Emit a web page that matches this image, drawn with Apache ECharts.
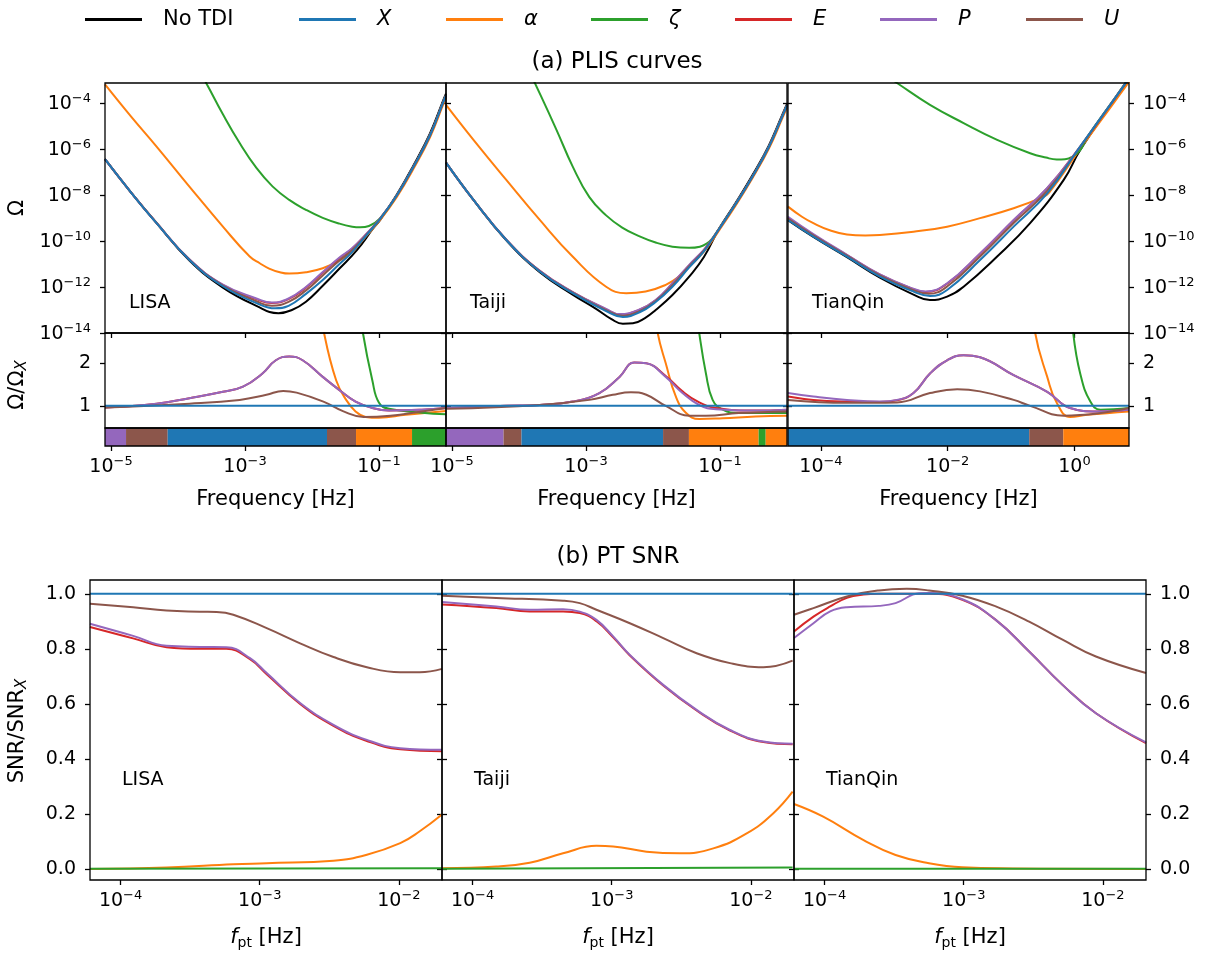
<!DOCTYPE html>
<html>
<head>
<meta charset="utf-8">
<script src="https://cdn.jsdelivr.net/npm/echarts@6/dist/echarts.min.js"></script>
<style>
html, body { margin: 0; padding: 0; background: #fff; }
#chart { width: 1210px; height: 954px; }
</style>
</head>
<body>
<div id="chart"></div>
<script>
// all curves are [log10 f, value]; PLIS values are log10 Ω
const lisaPlisNoTdi = [[-5.09,-6.45],[-4.7,-7.9],[-4.32,-9.23],[-3.83,-10.85],[-3.33,-12.03],[-2.83,-12.82],[-2.5,-13.14],[-2.3,-13.0],[-2.09,-12.64],[-1.84,-11.95],[-1.59,-11.2],[-1.33,-10.4],[-1.085,-9.45],[-0.985,-9.1],[-0.736,-8.0],[-0.488,-6.73],[-0.239,-5.33],[-0.04,-3.88],[0,-3.6]]
const lisaPlisX = [[-5.09,-6.45],[-4.7,-7.9],[-4.32,-9.23],[-3.83,-10.83],[-3.33,-11.97],[-2.83,-12.7],[-2.55,-12.93],[-2.35,-12.82],[-2.09,-12.3],[-1.84,-11.7],[-1.59,-11.0],[-1.407,-10.51],[-1.2,-9.8],[-0.985,-9.05],[-0.736,-8.03],[-0.488,-6.79],[-0.239,-5.41],[-0.04,-3.96],[0,-3.68]]
const lisaPlisAlpha = [[-5.09,-3.2],[-4.7,-4.6],[-4.32,-5.9],[-3.83,-7.64],[-3.33,-9.38],[-2.93,-10.68],[-2.78,-10.97],[-2.64,-11.2],[-2.48,-11.36],[-2.34,-11.42],[-2.09,-11.36],[-1.84,-11.19],[-1.59,-10.85],[-1.407,-10.5],[-1.2,-9.82],[-0.985,-9.1],[-0.736,-8.1],[-0.488,-6.88],[-0.239,-5.5],[-0.04,-4.06],[0,-3.78]]
const lisaPlisZeta = [[-3.85,-1.75],[-3.58,-3.14],[-3.33,-4.5],[-3.08,-5.75],[-2.83,-6.83],[-2.59,-7.63],[-2.34,-8.22],[-2.09,-8.65],[-1.84,-9.0],[-1.59,-9.25],[-1.4,-9.38],[-1.28,-9.41],[-1.15,-9.35],[-0.985,-9.02],[-0.736,-8.03],[-0.488,-6.79],[-0.239,-5.41],[-0.04,-3.96],[0,-3.68]]
const lisaPlisE = [[-5.09,-6.45],[-4.7,-7.9],[-4.32,-9.22],[-3.83,-10.81],[-3.33,-11.92],[-2.83,-12.53],[-2.6,-12.7],[-2.35,-12.53],[-2.09,-12.03],[-1.84,-11.38],[-1.59,-10.75],[-1.407,-10.35],[-1.2,-9.74],[-0.985,-9.04],[-0.736,-8.03],[-0.488,-6.79],[-0.239,-5.41],[-0.04,-3.96],[0,-3.68]]
const lisaPlisP = [[-5.09,-6.45],[-4.7,-7.9],[-4.32,-9.22],[-3.83,-10.8],[-3.33,-11.9],[-2.83,-12.5],[-2.6,-12.68],[-2.35,-12.5],[-2.09,-12.0],[-1.84,-11.35],[-1.59,-10.72],[-1.407,-10.33],[-1.2,-9.73],[-0.985,-9.03],[-0.736,-8.03],[-0.488,-6.79],[-0.239,-5.41],[-0.04,-3.96],[0,-3.68]]
const lisaPlisU = [[-5.09,-6.45],[-4.7,-7.9],[-4.32,-9.22],[-3.83,-10.82],[-3.33,-11.94],[-2.83,-12.62],[-2.6,-12.82],[-2.35,-12.65],[-2.09,-12.15],[-1.84,-11.5],[-1.59,-10.85],[-1.407,-10.42],[-1.2,-9.77],[-0.985,-9.04],[-0.736,-8.03],[-0.488,-6.79],[-0.239,-5.41],[-0.04,-3.96],[0,-3.68]]

const taijiPlisNoTdi = [[-5.09,-6.6],[-4.68,-8.22],[-4.19,-9.97],[-3.69,-11.36],[-3.2,-12.33],[-2.85,-12.95],[-2.62,-13.4],[-2.45,-13.6],[-2.3,-13.58],[-2.12,-13.35],[-1.96,-13.0],[-1.71,-12.35],[-1.46,-11.55],[-1.24,-10.7],[-1.016,-9.48],[-0.768,-8.35],[-0.521,-7.17],[-0.272,-5.86],[-0.074,-4.55],[0,-4.05]]
const taijiPlisX = [[-5.09,-6.6],[-4.68,-8.22],[-4.19,-9.96],[-3.69,-11.33],[-3.2,-12.27],[-2.7,-13.05],[-2.45,-13.3],[-2.2,-13.1],[-1.96,-12.65],[-1.71,-11.99],[-1.46,-11.15],[-1.24,-10.45],[-1.116,-9.93],[-1.016,-9.49],[-0.768,-8.4],[-0.521,-7.23],[-0.272,-5.92],[-0.074,-4.61],[0,-4.1]]
const taijiPlisAlpha = [[-5.09,-4.09],[-4.68,-5.61],[-4.19,-7.35],[-3.69,-9.09],[-3.2,-10.68],[-2.7,-11.99],[-2.4,-12.27],[-2.11,-12.2],[-1.81,-11.91],[-1.61,-11.55],[-1.46,-11.12],[-1.24,-10.47],[-1.016,-9.55],[-0.768,-8.47],[-0.521,-7.3],[-0.272,-6.0],[-0.074,-4.7],[0,-4.2]]
const taijiPlisZeta = [[-3.9,-2.3],[-3.77,-3.1],[-3.446,-5.14],[-3.2,-6.76],[-2.95,-8.1],[-2.7,-8.89],[-2.46,-9.42],[-2.2,-9.8],[-1.95,-10.08],[-1.71,-10.25],[-1.46,-10.3],[-1.3,-10.25],[-1.2,-10.12],[-1.116,-9.9],[-1.016,-9.47],[-0.768,-8.4],[-0.521,-7.23],[-0.272,-5.92],[-0.074,-4.61],[0,-4.1]]
const taijiPlisE = [[-5.09,-6.6],[-4.68,-8.22],[-4.19,-9.95],[-3.69,-11.3],[-3.2,-12.22],[-2.7,-12.97],[-2.5,-13.2],[-2.2,-12.99],[-1.96,-12.58],[-1.71,-11.86],[-1.46,-11.06],[-1.24,-10.4],[-1.116,-9.92],[-1.016,-9.49],[-0.768,-8.4],[-0.521,-7.23],[-0.272,-5.92],[-0.074,-4.61],[0,-4.1]]
const taijiPlisP = [[-5.09,-6.6],[-4.68,-8.22],[-4.19,-9.95],[-3.69,-11.3],[-3.2,-12.22],[-2.7,-12.95],[-2.5,-13.18],[-2.2,-12.98],[-1.96,-12.57],[-1.71,-11.84],[-1.46,-11.04],[-1.24,-10.38],[-1.116,-9.91],[-1.016,-9.49],[-0.768,-8.4],[-0.521,-7.23],[-0.272,-5.92],[-0.074,-4.61],[0,-4.1]]
const taijiPlisU = [[-5.09,-6.6],[-4.68,-8.22],[-4.19,-9.96],[-3.69,-11.32],[-3.2,-12.25],[-2.7,-13.01],[-2.45,-13.25],[-2.2,-13.05],[-1.96,-12.61],[-1.71,-11.92],[-1.46,-11.1],[-1.24,-10.42],[-1.116,-9.92],[-1.016,-9.49],[-0.768,-8.4],[-0.521,-7.23],[-0.272,-5.92],[-0.074,-4.61],[0,-4.1]]

const tianqinPlisNoTdi = [[-4.52,-9.1],[-4.12,-9.83],[-3.59,-10.71],[-3.07,-11.6],[-2.54,-12.33],[-2.28,-12.57],[-2.01,-12.42],[-1.75,-11.99],[-1.22,-10.68],[-0.7,-9.23],[-0.17,-7.35],[0.09,-6.05],[0.62,-3.92],[0.87,-2.95]]
const tianqinPlisX = [[-4.52,-9.09],[-4.12,-9.81],[-3.59,-10.68],[-3.07,-11.55],[-2.54,-12.2],[-2.28,-12.39],[-2.01,-12.13],[-1.49,-10.83],[-0.96,-9.38],[-0.43,-7.93],[0.09,-5.9],[0.62,-3.87],[0.87,-2.9]]
const tianqinPlisAlpha = [[-4.52,-8.51],[-4.3,-8.95],[-4.12,-9.23],[-3.85,-9.55],[-3.59,-9.72],[-3.3,-9.76],[-3.07,-9.74],[-2.54,-9.6],[-2.01,-9.38],[-1.49,-9.01],[-0.96,-8.58],[-0.54,-8.14],[-0.4,-7.9],[0.09,-6.0],[0.62,-4.0],[0.87,-3.05]]
const tianqinPlisZeta = [[-3.2,-2.4],[-2.8,-3.14],[-2.28,-4.09],[-1.75,-4.88],[-1.22,-5.61],[-0.7,-6.19],[-0.45,-6.38],[-0.28,-6.46],[-0.15,-6.45],[-0.02,-6.32],[0.09,-6.06],[0.2,-5.5],[0.62,-3.86],[0.87,-2.88]]
const tianqinPlisE = [[-4.52,-9.0],[-4.12,-9.74],[-3.59,-10.62],[-3.07,-11.47],[-2.54,-12.1],[-2.35,-12.22],[-2.01,-11.86],[-1.49,-10.56],[-0.96,-9.1],[-0.43,-7.71],[0.09,-5.9],[0.62,-3.87],[0.87,-2.9]]
const tianqinPlisP = [[-4.52,-8.95],[-4.12,-9.7],[-3.59,-10.6],[-3.07,-11.45],[-2.54,-12.08],[-2.35,-12.2],[-2.01,-11.84],[-1.49,-10.54],[-0.96,-9.09],[-0.43,-7.7],[0.09,-5.9],[0.62,-3.87],[0.87,-2.9]]
const tianqinPlisU = [[-4.52,-9.03],[-4.12,-9.76],[-3.59,-10.64],[-3.07,-11.5],[-2.54,-12.14],[-2.3,-12.3],[-2.01,-11.98],[-1.49,-10.68],[-0.96,-9.22],[-0.43,-7.82],[0.09,-5.92],[0.62,-3.88],[0.87,-2.9]]

// Ω / Ω_X
const lisaRatioX = [[-5.09,1],[0,1]]
const lisaRatioAlpha = [[-1.95,4],[-1.82,2.71],[-1.64,1.6],[-1.49,1.14],[-1.35,0.87],[-1.2,0.74],[-1.0,0.72],[-0.6,0.79],[0,0.88]]
const lisaRatioZeta = [[-1.35,4],[-1.24,2.71],[-1.1,1.6],[-1.0,1.07],[-0.85,0.93],[-0.36,0.84],[0,0.8]]
const lisaRatioE = [[-5.09,0.96],[-4.32,1.05],[-3.83,1.18],[-3.33,1.33],[-3.03,1.45],[-2.74,1.76],[-2.54,2.07],[-2.34,2.16],[-2.14,2.07],[-1.84,1.68],[-1.59,1.37],[-1.35,1.1],[-1.1,0.95],[-0.85,0.89],[-0.36,0.91],[0,0.95]]
const lisaRatioP = [[-5.09,0.96],[-4.32,1.05],[-3.83,1.18],[-3.33,1.33],[-3.03,1.45],[-2.74,1.76],[-2.54,2.07],[-2.34,2.16],[-2.14,2.07],[-1.84,1.68],[-1.59,1.37],[-1.35,1.1],[-1.1,0.95],[-0.85,0.89],[-0.36,0.91],[0,0.95]]
const lisaRatioU = [[-5.09,0.96],[-3.83,1.05],[-3.08,1.14],[-2.68,1.26],[-2.43,1.35],[-2.23,1.31],[-1.83,1.1],[-1.53,0.87],[-1.23,0.74],[-0.83,0.77],[-0.36,0.87],[0,0.95]]

const taijiRatioX = [[-5.09,1],[0,1]]
const taijiRatioAlpha = [[-2.05,4],[-1.93,2.71],[-1.81,2.0],[-1.66,1.22],[-1.51,0.84],[-1.31,0.69],[-0.96,0.71],[-0.47,0.75],[0,0.77]]
const taijiRatioZeta = [[-1.42,4],[-1.31,2.71],[-1.21,1.76],[-1.11,1.14],[-0.96,0.91],[-0.72,0.83],[0,0.83]]
const taijiRatioE = [[-5.08,0.95],[-4.19,1.0],[-3.69,1.02],[-3.2,1.1],[-2.8,1.3],[-2.5,1.68],[-2.28,2.02],[-2.1,2.0],[-1.81,1.7],[-1.56,1.34],[-1.31,1.08],[-1.06,0.95],[-0.47,0.89],[0,0.91]]
const taijiRatioP = [[-5.08,0.95],[-4.19,1.0],[-3.69,1.02],[-3.2,1.1],[-2.8,1.3],[-2.5,1.68],[-2.28,2.02],[-2.1,2.0],[-1.81,1.68],[-1.56,1.3],[-1.31,1.02],[-1.06,0.92],[-0.47,0.89],[0,0.91]]
const taijiRatioU = [[-5.08,0.93],[-3.69,1.02],[-2.95,1.14],[-2.6,1.26],[-2.33,1.32],[-2.1,1.26],[-1.81,1.0],[-1.46,0.77],[-1.21,0.77],[-0.72,0.83],[0,0.87]]

const tianqinRatioX = [[-4.52,1],[0.86,1]]
const tianqinRatioAlpha = [[-0.7,4],[-0.62,2.71],[-0.43,1.68],[-0.28,1.07],[-0.07,0.74],[0.2,0.79],[0.86,0.87]]
const tianqinRatioZeta = [[-0.08,4],[-0.02,2.71],[0.09,1.76],[0.25,1.1],[0.41,0.91],[0.86,0.95]]
const tianqinRatioE = [[-4.52,1.22],[-4.12,1.14],[-3.59,1.1],[-3.07,1.09],[-2.8,1.13],[-2.54,1.3],[-2.28,1.76],[-2.01,2.07],[-1.75,2.19],[-1.49,2.14],[-0.96,1.72],[-0.43,1.33],[-0.07,0.95],[0.36,0.87],[0.86,0.91]]
const tianqinRatioP = [[-4.52,1.3],[-4.12,1.22],[-3.59,1.14],[-3.07,1.1],[-2.8,1.14],[-2.54,1.3],[-2.28,1.76],[-2.01,2.07],[-1.75,2.19],[-1.49,2.14],[-0.96,1.72],[-0.43,1.33],[-0.07,0.95],[0.36,0.87],[0.86,0.91]]
const tianqinRatioU = [[-4.52,1.14],[-3.59,1.07],[-2.8,1.08],[-2.28,1.3],[-1.85,1.39],[-1.49,1.34],[-0.96,1.14],[-0.7,1.0],[-0.17,0.77],[0.36,0.82],[0.86,0.95]]

// best TDI strip: band edges in log10 f, and the combination of each band
const lisaStripEdges = [-5.09, -4.776, -4.154, -1.776, -1.343, -0.507, 0]
const lisaStripTdi = ['P', 'U', 'X', 'U', 'α', 'ζ']
const taijiStripEdges = [-5.09, -4.231, -3.963, -1.85, -1.464, -0.423, -0.318, 0]
const taijiStripTdi = ['P', 'U', 'X', 'U', 'α', 'ζ', 'α']
const tianqinStripEdges = [-4.52, -0.714, -0.177, 0.86]
const tianqinStripTdi = ['X', 'U', 'α']

// SNR / SNR_X
const lisaSnrX = [[-4.22,1],[-1.69,1]]
const lisaSnrAlpha = [[-4.22,0],[-3.67,0.005],[-3.19,0.017],[-2.95,0.021],[-2.47,0.03],[-2.23,0.052],[-1.99,0.094],[-1.85,0.137],[-1.69,0.198]]
const lisaSnrZeta = [[-4.22,0.001],[-1.69,0.003]]
const lisaSnrE = [[-4.22,0.879],[-3.91,0.838],[-3.67,0.806],[-3.43,0.8],[-3.24,0.8],[-3.07,0.762],[-2.95,0.708],[-2.71,0.6],[-2.47,0.52],[-2.23,0.465],[-1.99,0.435],[-1.69,0.428]]
const lisaSnrP = [[-4.22,0.891],[-3.91,0.847],[-3.67,0.811],[-3.43,0.807],[-3.24,0.806],[-3.07,0.766],[-2.95,0.712],[-2.71,0.603],[-2.47,0.524],[-2.23,0.469],[-1.99,0.439],[-1.69,0.433]]
const lisaSnrU = [[-4.22,0.964],[-3.91,0.951],[-3.67,0.939],[-3.43,0.935],[-3.31,0.934],[-3.19,0.924],[-2.95,0.875],[-2.71,0.82],[-2.47,0.77],[-2.23,0.733],[-1.99,0.715],[-1.85,0.715],[-1.69,0.727]]

const taijiSnrX = [[-4.22,1],[-1.7,1]]
const taijiSnrAlpha = [[-4.22,0.003],[-3.83,0.009],[-3.59,0.023],[-3.35,0.057],[-3.11,0.084],[-2.99,0.082],[-2.75,0.063],[-2.51,0.057],[-2.27,0.075],[-2.03,0.129],[-1.84,0.202],[-1.7,0.281]]
const taijiSnrZeta = [[-4.22,0.001],[-1.7,0.005]]
const taijiSnrE = [[-4.22,0.961],[-3.83,0.948],[-3.59,0.936],[-3.35,0.936],[-3.23,0.93],[-3.11,0.9],[-2.99,0.842],[-2.87,0.776],[-2.63,0.667],[-2.39,0.576],[-2.15,0.503],[-1.91,0.461],[-1.7,0.453]]
const taijiSnrP = [[-4.22,0.97],[-3.83,0.954],[-3.59,0.942],[-3.35,0.944],[-3.23,0.935],[-3.11,0.905],[-2.99,0.845],[-2.87,0.778],[-2.63,0.669],[-2.39,0.578],[-2.15,0.505],[-1.91,0.463],[-1.7,0.455]]
const taijiSnrU = [[-4.22,0.993],[-3.83,0.985],[-3.35,0.975],[-3.23,0.966],[-3.11,0.942],[-2.87,0.893],[-2.63,0.839],[-2.39,0.784],[-2.15,0.748],[-1.91,0.733],[-1.7,0.757]]

const tianqinSnrX = [[-4.22,1],[-1.69,1]]
const tianqinSnrAlpha = [[-4.22,0.236],[-4.01,0.19],[-3.72,0.105],[-3.49,0.051],[-3.25,0.021],[-3.01,0.006],[-2.65,0.002],[-1.69,0.0]]
const tianqinSnrZeta = [[-4.22,0.001],[-1.69,0.001]]
const tianqinSnrE = [[-4.22,0.863],[-4.08,0.917],[-3.96,0.954],[-3.84,0.985],[-3.72,0.997],[-3.61,1.0],[-3.25,1.0],[-3.01,0.978],[-2.77,0.905],[-2.53,0.79],[-2.29,0.669],[-2.05,0.566],[-1.69,0.457]]
const tianqinSnrP = [[-4.22,0.839],[-4.08,0.893],[-3.96,0.936],[-3.84,0.951],[-3.61,0.956],[-3.49,0.966],[-3.32,1.002],[-3.25,1.003],[-3.01,0.98],[-2.77,0.905],[-2.53,0.79],[-2.29,0.669],[-2.05,0.566],[-1.69,0.46]]
const tianqinSnrU = [[-4.22,0.924],[-4.08,0.948],[-3.84,0.99],[-3.61,1.012],[-3.41,1.018],[-3.25,1.012],[-3.01,0.993],[-2.77,0.954],[-2.53,0.899],[-2.29,0.833],[-2.05,0.772],[-1.69,0.712]]

// axis ranges (log10 for log axes) and ticks
const plisRange = [-14, -3.14]
const plisTicks = [-14, -12, -10, -8, -6, -4]
const ratioRange = [0.48, 2.71]
const ratioTicks = [1, 2]
const snrRange = [-0.04, 1.05]
const snrTicks = [0, 0.2, 0.4, 0.6, 0.8, 1.0]
const lisaFRange = [-5.09, 0]
const taijiFRange = [-5.09, 0]
const tianqinFRange = [-4.52, 0.86]
const lisaFTicks = [-5, -3, -1]
const taijiFTicks = [-5, -3, -1]
const tianqinFTicks = [-4, -2, 0]
const snrFRange = [-4.22, -1.69]
const snrFTicks = [-4, -3, -2]

const FONT = 'DejaVu Sans'
const COLORS = {'No TDI': '#000000', X: '#1f77b4', 'α': '#ff7f0e', 'ζ': '#2ca02c', E: '#d62728', P: '#9467bd', U: '#8c564b'}
const DRAW_ORDER = ['No TDI', 'α', 'ζ', 'E', 'P', 'U', 'X']
const LEGEND_ORDER = ['No TDI', 'X', 'α', 'ζ', 'E', 'P', 'U']
const LEGEND_LEFT = [85, 299, 446, 591, 735, 880, 1026]

const detectors = [
  {
    name: 'LISA', fRange: lisaFRange, fTicks: lisaFTicks,
    plis: {'No TDI': lisaPlisNoTdi, X: lisaPlisX, 'α': lisaPlisAlpha, 'ζ': lisaPlisZeta, E: lisaPlisE, P: lisaPlisP, U: lisaPlisU},
    ratio: {X: lisaRatioX, 'α': lisaRatioAlpha, 'ζ': lisaRatioZeta, E: lisaRatioE, P: lisaRatioP, U: lisaRatioU},
    stripEdges: lisaStripEdges, stripTdi: lisaStripTdi,
    snr: {X: lisaSnrX, 'α': lisaSnrAlpha, 'ζ': lisaSnrZeta, E: lisaSnrE, P: lisaSnrP, U: lisaSnrU},
  },
  {
    name: 'Taiji', fRange: taijiFRange, fTicks: taijiFTicks,
    plis: {'No TDI': taijiPlisNoTdi, X: taijiPlisX, 'α': taijiPlisAlpha, 'ζ': taijiPlisZeta, E: taijiPlisE, P: taijiPlisP, U: taijiPlisU},
    ratio: {X: taijiRatioX, 'α': taijiRatioAlpha, 'ζ': taijiRatioZeta, E: taijiRatioE, P: taijiRatioP, U: taijiRatioU},
    stripEdges: taijiStripEdges, stripTdi: taijiStripTdi,
    snr: {X: taijiSnrX, 'α': taijiSnrAlpha, 'ζ': taijiSnrZeta, E: taijiSnrE, P: taijiSnrP, U: taijiSnrU},
  },
  {
    name: 'TianQin', fRange: tianqinFRange, fTicks: tianqinFTicks,
    plis: {'No TDI': tianqinPlisNoTdi, X: tianqinPlisX, 'α': tianqinPlisAlpha, 'ζ': tianqinPlisZeta, E: tianqinPlisE, P: tianqinPlisP, U: tianqinPlisU},
    ratio: {X: tianqinRatioX, 'α': tianqinRatioAlpha, 'ζ': tianqinRatioZeta, E: tianqinRatioE, P: tianqinRatioP, U: tianqinRatioU},
    stripEdges: tianqinStripEdges, stripTdi: tianqinStripTdi,
    snr: {X: tianqinSnrX, 'α': tianqinSnrAlpha, 'ζ': tianqinSnrZeta, E: tianqinSnrE, P: tianqinSnrP, U: tianqinSnrU},
  },
]

// layout
const TOP_LEFT = [105, 446, 788], TOP_W = 341
const PLIS_TOP = 83, PLIS_H = 250
const RATIO_TOP = 333, RATIO_H = 95
const STRIP_TOP = 428, STRIP_H = 18
const SNR_LEFT = [90, 442, 794], SNR_W = 352
const SNR_TOP = 580, SNR_H = 300

const p10 = v => Math.pow(10, v)
const logLog = pts => pts.map(([f, v]) => [p10(f), p10(v)])
const logLin = pts => pts.map(([f, v]) => [p10(f), v])

const TICK = {show: true, length: 5, lineStyle: {color: '#000', width: 1.3}}
const POW_RICH = {
  b: {fontFamily: FONT, fontSize: 19, color: '#000', lineHeight: 22, padding: [3, 0, 0, 0]},
  s: {fontFamily: FONT, fontSize: 13, color: '#000', lineHeight: 14, verticalAlign: 'top'},
}
function powLabel(v) {
  const e = Math.round(Math.log10(v))
  return '{b|10}{s|' + (e < 0 ? '\u2212' + (-e) : String(e)) + '}'
}

const grids = [], xAxis = [], yAxis = [], series = []

function addGrid(left, top, width, height) {
  grids.push({left, top, width, height, show: true, borderColor: '#000', borderWidth: 1.3, backgroundColor: 'transparent', z: 5})
  return grids.length - 1
}

function addXLog(gi, range, ticks, label, name, nameGap, nameStyle) {
  xAxis.push({
    type: 'log', gridIndex: gi, min: p10(range[0]), max: p10(range[1]),
    axisLine: {show: false, onZero: false}, splitLine: {show: false},
    axisTick: {...TICK, customValues: ticks.map(p10)},
    axisLabel: {show: label, customValues: ticks.map(p10), formatter: powLabel, margin: 9, rich: POW_RICH},
    name: name || '', nameLocation: 'middle', nameGap: nameGap || 0, nameTextStyle: nameStyle || {},
  })
}

function addYPair(gi, type, range, ticks, fmt, rich, showLeft, showRight) {
  const first = yAxis.length
  const conv = type === 'log' ? p10 : (v => v)
  ;['left', 'right'].forEach((pos, k) => {
    yAxis.push({
      type, gridIndex: gi, position: pos, min: conv(range[0]), max: conv(range[1]),
      axisLine: {show: false, onZero: false}, splitLine: {show: false},
      axisTick: {...TICK, customValues: ticks.map(conv)},
      axisLabel: {
        show: k ? showRight : showLeft, customValues: ticks.map(conv), formatter: fmt, margin: 14,
        fontFamily: FONT, fontSize: 19, color: '#000', rich,
      },
    })
  })
  return first
}

function addLines(curves, gi, yi, conv) {
  DRAW_ORDER.forEach(name => {
    if (!curves[name]) return
    series.push({
      type: 'line', name, xAxisIndex: gi, yAxisIndex: yi, data: conv(curves[name]),
      showSymbol: false, symbol: 'none', smooth: 0.45, silent: true, z: 2,
      lineStyle: {width: 2, color: COLORS[name]}, itemStyle: {color: COLORS[name]},
    })
  })
}

const FREQ_NAME = {fontFamily: FONT, fontSize: 21, color: '#000'}
const FPT_NAME = {
  fontFamily: FONT, fontSize: 21, color: '#000',
  rich: {
    i: {fontFamily: FONT, fontSize: 21, fontStyle: 'italic', color: '#000', lineHeight: 24},
    u: {fontFamily: FONT, fontSize: 14, color: '#000', lineHeight: 10, verticalAlign: 'bottom'},
    n: {fontFamily: FONT, fontSize: 21, color: '#000', lineHeight: 24},
  },
}

const graphics = []

detectors.forEach((d, k) => {
  const first = k === 0, last = k === detectors.length - 1

  // PLIS
  let gi = addGrid(TOP_LEFT[k], PLIS_TOP, TOP_W, PLIS_H)
  addXLog(gi, d.fRange, d.fTicks, false)
  let yi = addYPair(gi, 'log', plisRange, plisTicks, powLabel, POW_RICH, first, last)
  addLines(d.plis, gi, yi, logLog)
  graphics.push({type: 'text', x: TOP_LEFT[k] + 24, y: 303, style: {text: d.name, fontFamily: FONT, fontSize: 19, fill: '#000', verticalAlign: 'middle'}})

  // ratio
  gi = addGrid(TOP_LEFT[k], RATIO_TOP, TOP_W, RATIO_H)
  addXLog(gi, d.fRange, d.fTicks, false)
  yi = addYPair(gi, 'value', ratioRange, ratioTicks, v => String(v), undefined, first, last)
  addLines(d.ratio, gi, yi, logLin)

  // best-TDI strip
  gi = addGrid(TOP_LEFT[k], STRIP_TOP, TOP_W, STRIP_H)
  addXLog(gi, d.fRange, d.fTicks, true, 'Frequency [Hz]', 43, FREQ_NAME)
  yAxis.push({type: 'value', gridIndex: gi, min: 0, max: 1, show: false})
  const tdi = d.stripTdi
  series.push({
    type: 'custom', xAxisIndex: gi, yAxisIndex: yAxis.length - 1, silent: true, z: 1,
    data: d.stripEdges.slice(0, -1).map((e, i) => [p10(e), p10(d.stripEdges[i + 1]), 0, 1]),
    encode: {x: [0, 1], y: [2, 3]},
    renderItem(params, api) {
      const a = api.coord([api.value(0), api.value(2)])
      const b = api.coord([api.value(1), api.value(3)])
      return {type: 'rect', shape: {x: a[0], y: b[1], width: b[0] - a[0], height: a[1] - b[1]}, style: {fill: COLORS[tdi[params.dataIndex]]}}
    },
  })

  // SNR
  gi = addGrid(SNR_LEFT[k], SNR_TOP, SNR_W, SNR_H)
  addXLog(gi, snrFRange, snrFTicks, true, '{i|f}{u|pt}{n| [Hz]}', 46, FPT_NAME)
  yi = addYPair(gi, 'value', snrRange, snrTicks, v => v.toFixed(1), undefined, first, last)
  addLines(d.snr, gi, yi, logLin)
  graphics.push({type: 'text', x: SNR_LEFT[k] + 32, y: 780, style: {text: d.name, fontFamily: FONT, fontSize: 19, fill: '#000', verticalAlign: 'middle'}})
})

graphics.push(
  {type: 'text', x: 617, y: 62, style: {text: '(a) PLIS curves', fontFamily: FONT, fontSize: 23, fill: '#000', align: 'center', verticalAlign: 'middle'}},
  {type: 'text', x: 618, y: 557, style: {text: '(b) PT SNR', fontFamily: FONT, fontSize: 23, fill: '#000', align: 'center', verticalAlign: 'middle'}},
  {type: 'text', x: 18, y: 208, rotation: Math.PI / 2, style: {text: 'Ω', fontFamily: FONT, fontSize: 21, fill: '#000', align: 'center', verticalAlign: 'middle'}},
  {
    type: 'text', x: 18, y: 385, rotation: Math.PI / 2,
    style: {
      text: '{a|Ω/Ω}{s|X}', align: 'center', verticalAlign: 'middle',
      rich: {
        a: {fontFamily: FONT, fontSize: 21, fill: '#000', lineHeight: 24},
        s: {fontFamily: FONT, fontSize: 15, fontStyle: 'italic', fill: '#000', lineHeight: 10, verticalAlign: 'bottom'},
      },
    },
  },
  {
    type: 'text', x: 18, y: 731, rotation: Math.PI / 2,
    style: {
      text: '{a|SNR/SNR}{s|X}', align: 'center', verticalAlign: 'middle',
      rich: {
        a: {fontFamily: FONT, fontSize: 21, fill: '#000', lineHeight: 24},
        s: {fontFamily: FONT, fontSize: 15, fontStyle: 'italic', fill: '#000', lineHeight: 10, verticalAlign: 'bottom'},
      },
    },
  },
)

const legend = LEGEND_ORDER.map((name, i) => ({
  data: [{name, icon: 'rect'}], left: LEGEND_LEFT[i] - 5, top: 4, padding: 5,
  itemWidth: 57, itemHeight: 3, selectedMode: false,
  textStyle: {fontFamily: FONT, fontSize: 21, color: '#000', fontStyle: name === 'No TDI' ? 'normal' : 'italic', padding: [0, 0, 0, 16]},
}))

const chart = echarts.init(document.getElementById('chart'), null, {renderer: 'canvas'})
chart.setOption({
  animation: false,
  backgroundColor: '#fff',
  textStyle: {fontFamily: FONT},
  legend,
  grid: grids,
  xAxis,
  yAxis,
  series,
  graphic: graphics,
})
</script>
</body>
</html>
